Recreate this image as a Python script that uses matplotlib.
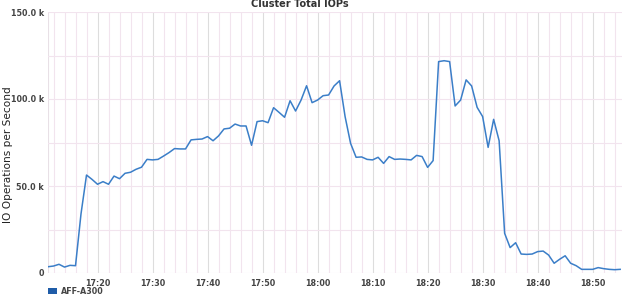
import matplotlib
matplotlib.use("Agg")
import matplotlib.pyplot as plt
import matplotlib.dates as mdates
from matplotlib.patches import Patch
import pandas as pd
from matplotlib.ticker import FixedLocator, MultipleLocator

title = "Cluster Total IOPs"
y_label = "IO Operations per Second"
series_name = "AFF-A300"
start_time = "2024-01-01 17:11"
end_time = "2024-01-01 18:55:20"
# IOPs in thousands, one sample per minute from 17:11
iops_k = [3.6, 4.0, 5.0, 3.4, 4.4, 4.2, 34.0, 56.3, 53.8, 51.0,
          52.5, 51.0, 55.7, 54.2, 57.3, 57.9, 59.6, 60.8, 65.3, 65.0,
          65.3, 67.2, 69.2, 71.5, 71.3, 71.3, 76.5, 76.8, 77.0, 78.4,
          76.0, 78.8, 82.8, 83.2, 85.6, 84.5, 84.5, 73.4, 87.0, 87.5,
          86.4, 95.0, 92.3, 89.5, 99.0, 93.1, 99.4, 107.6, 97.9, 99.4,
          101.9, 102.3, 107.5, 110.5, 89.9, 74.5, 66.5, 66.7, 65.3, 65.0,
          66.5, 63.0, 66.9, 65.3, 65.5, 65.3, 65.0, 67.6, 66.9, 60.7,
          64.6, 121.5, 122.0, 121.5, 96.0, 99.4, 111.0, 107.5, 95.2, 89.9,
          72.2, 88.3, 76.0, 22.8, 14.6, 17.4, 10.9, 10.7, 10.9, 12.3,
          12.6, 10.3, 5.6, 7.9, 9.9, 5.6, 4.2, 2.1, 2.1, 2.1,
          3.1, 2.5, 2.1, 1.9, 2.1]
y_ticks = [0, 50000, 100000, 150000]
y_tick_labels = ["0", "50.0 k", "100.0 k", "150.0 k"]

times = pd.date_range(start_time, periods=len(iops_k), freq="1min")
values = [v * 1000 for v in iops_k]

fig = plt.figure(figsize=(6.24, 2.95), dpi=100)
ax = fig.add_axes([48/624, 1-273/295, 574/624, 261/295])

ax.plot(times, values, color="#3b7ec8", lw=1.1, zorder=3)

ax.set_xlim(pd.Timestamp(start_time), pd.Timestamp(end_time))
ax.set_ylim(0, 150000)

ax.xaxis.set_major_locator(mdates.MinuteLocator(byminute=range(0, 60, 10)))
ax.xaxis.set_minor_locator(mdates.MinuteLocator(byminute=range(0, 60, 2)))
ax.xaxis.set_major_formatter(mdates.DateFormatter("%H:%M"))
ax.yaxis.set_major_locator(FixedLocator(y_ticks))
ax.set_yticklabels(y_tick_labels)
ax.yaxis.set_minor_locator(MultipleLocator(25000))

for s in ax.spines.values():
    s.set_visible(False)
ax.tick_params(axis="both", which="both", length=0)
ax.tick_params(axis="x", pad=4, labelsize=5.8, labelcolor="#444444")
ax.tick_params(axis="y", pad=3, labelsize=5.8, labelcolor="#444444")
for lab in ax.get_xticklabels() + ax.get_yticklabels():
    lab.set_fontweight("bold")

ax.grid(True, which="major", axis="x", color="#dddddd", lw=0.8, zorder=0)
ax.grid(True, which="minor", axis="x", color="#f2e4ee", lw=0.8, zorder=0)
ax.grid(True, which="both", axis="y", color="#f2e4ee", lw=0.8, zorder=0)
ax.axvline(ax.get_xlim()[0], color="#e8e0e6", lw=0.8, zorder=0)

fig.text(8/624, 1 - 155/295, y_label, rotation=90, ha="center", va="center",
         fontsize=7.6, family=["Liberation Sans Narrow", "DejaVu Sans"], color="#222222")

fig.text(0.48, 1 - 4/295, title, ha="center", va="center", fontsize=7,
         color="#333333", fontweight="bold")

leg = fig.legend(handles=[Patch(facecolor="#1f5ca8", edgecolor="none", label=series_name)],
                 loc="center left", bbox_to_anchor=(48/624, 1 - 291/295), frameon=False,
                 handlelength=1.1, handleheight=0.8, handletextpad=0.5,
                 borderpad=0, borderaxespad=0,
                 prop={"size": 5.8, "weight": "bold"})
for t in leg.get_texts():
    t.set_color("#444444")

fig.savefig("out.png", dpi=100)
